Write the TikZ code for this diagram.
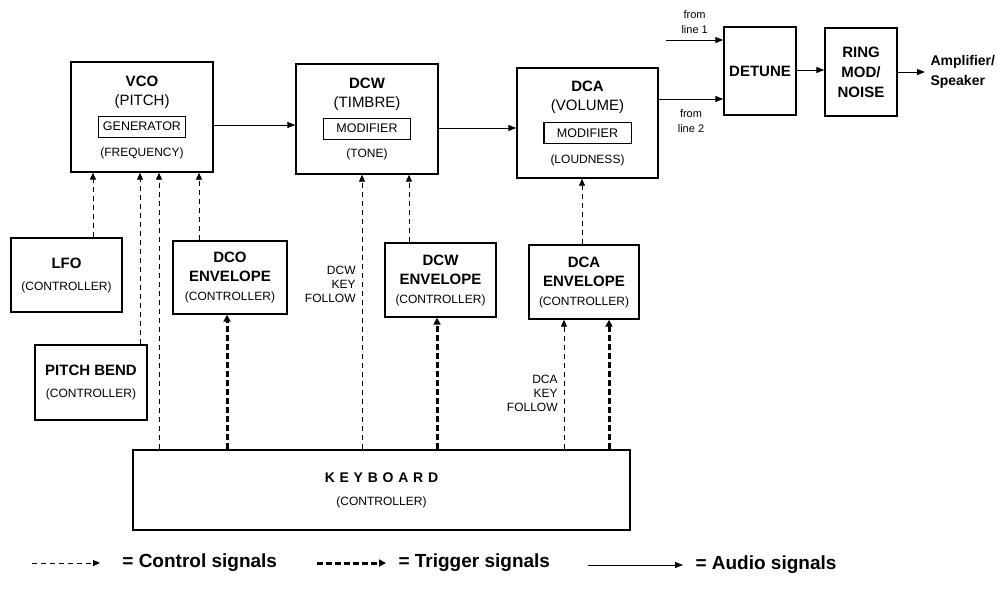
\documentclass[tikz,border=0pt]{standalone}
\usepackage{fontspec}
\setmainfont{Liberation Sans}
\usetikzlibrary{arrows.meta}
\newcommand{\modtitle}[1]{{\fontsize{15}{18}\selectfont\bfseries #1}}
\newcommand{\modsub}[1]{{\fontsize{15}{17}\selectfont #1}}
\newcommand{\modbox}[1]{{\setlength{\fboxsep}{0pt}\setlength{\fboxrule}{1.1pt}\fbox{\makebox[86pt]{\rule[-6pt]{0pt}{20pt}\fontsize{12.5}{14}\selectfont #1}}}}
\tikzset{
  module/.style={draw, line width=1.4pt, inner sep=0pt, align=center, font=\fontsize{12}{19}\selectfont},
  ctrl/.style={dash pattern=on 5pt off 4pt, line width=0.8pt, -{Triangle[length=7pt,width=6pt]}},
  trig/.style={dash pattern=on 6pt off 3pt, line width=3pt, -{Triangle[length=7pt,width=7pt]}},
  audio/.style={line width=1pt, -{Triangle[length=8pt,width=6pt]}},
  lbl/.style={font=\fontsize{12}{14}\selectfont, inner sep=0pt},
  legend/.style={font=\fontsize{19}{22}\selectfont\bfseries, inner sep=0pt, anchor=west},
}
\begin{document}
\begin{tikzpicture}[x=1pt,y=-1pt]
\useasboundingbox (0,0) rectangle (1005,590);
% modifier chain
\node[module, minimum width=142, minimum height=110] (VCO) at (142,117) {\modtitle{VCO}\\\modsub{(PITCH)}\\[7pt]\modbox{GENERATOR}\\[6pt](FREQUENCY)};
\node[module, minimum width=142, minimum height=110] (DCW) at (367,119) {\modtitle{DCW}\\\modsub{(TIMBRE)}\\[7pt]\modbox{MODIFIER}\\[6pt](TONE)};
\node[module, minimum width=141, minimum height=110] (DCA) at (587.5,123) {\modtitle{DCA}\\\modsub{(VOLUME)}\\[8pt]\modbox{MODIFIER}\\[7pt](LOUDNESS)};
\node[module, minimum width=72, minimum height=88, font=\fontsize{15}{18}\selectfont\bfseries] (DET) at (760,71) {DETUNE};
\node[module, minimum width=72, minimum height=88, font=\fontsize{15}{20}\selectfont\bfseries] (RING) at (861,72) {RING\\MOD/\\NOISE};
% controllers
\node[module, minimum width=111, minimum height=74] (LFO) at (66.5,275) {\modtitle{LFO}\\[3pt](CONTROLLER)};
\node[module, minimum width=112, minimum height=75] (PB) at (91,382.5) {\modtitle{PITCH BEND}\\[3pt](CONTROLLER)};
\node[module, minimum width=114, minimum height=73] (DCOE) at (230,277.5) {\modtitle{DCO}\\\modtitle{ENVELOPE}\\(CONTROLLER)};
\node[module, minimum width=111, minimum height=74] (DCWE) at (440.5,280) {\modtitle{DCW}\\\modtitle{ENVELOPE}\\(CONTROLLER)};
\node[module, minimum width=110, minimum height=74] (DCAE) at (584,282) {\modtitle{DCA}\\\modtitle{ENVELOPE}\\(CONTROLLER)};
\node[module, minimum width=497, minimum height=80] (KBD) at (381.5,490) {{\fontsize{14}{17}\selectfont\bfseries\addfontfeatures{LetterSpace=34}KEYBOARD}\\[4pt](CONTROLLER)};
% audio path
\coordinate (line1) at (666,40);
\coordinate (out) at (925,72);
\draw[audio] ([yshift=-8]VCO.east) -- ([yshift=-8]VCO.east -| DCW.west);
\draw[audio] ([yshift=-9]DCW.east) -- ([yshift=-9]DCW.east -| DCA.west);
\draw[audio] ([yshift=24]DCA.east) -- ([yshift=24]DCA.east -| DET.west)
  node[lbl, midway, below=10pt, align=center, font=\fontsize{11}{15}\selectfont] (l2) {from\\line 2};
\draw[audio] (line1) -- (line1 -| DET.west)
  node[lbl, midway, above=6pt, align=center, font=\fontsize{11}{15}\selectfont] (l1) {from\\line 1};
\draw[audio] (DET.east |- 0,70) -- (RING.west |- 0,70);
\draw[audio] (RING.east |- out) -- (out)
  node[right=5pt, align=left, inner sep=0pt, font=\fontsize{14}{20}\selectfont\bfseries] (spk) {Amplifier/\\Speaker};
% control signals
\draw[ctrl] ([xshift=26.5]LFO.north) -- ([xshift=26.5]LFO.north |- VCO.south);
\draw[ctrl] ([xshift=49]PB.north) -- ([xshift=49]PB.north |- VCO.south);
\draw[ctrl] ([xshift=17]VCO.south |- KBD.north) -- ([xshift=17]VCO.south);
\draw[ctrl] ([xshift=-31]DCOE.north) -- ([xshift=-31]DCOE.north |- VCO.south);
\draw[ctrl] ([xshift=-5]DCW.south |- KBD.north) -- ([xshift=-5]DCW.south)
  node[lbl, pos=0.6, left=6pt, align=right] (dcwkf) {DCW\\KEY\\FOLLOW};
\draw[ctrl] ([xshift=-31.5]DCWE.north) -- ([xshift=-31.5]DCWE.north |- DCW.south);
\draw[ctrl] ([xshift=-20]DCAE.south |- KBD.north) -- ([xshift=-20]DCAE.south)
  node[lbl, pos=0.43, left=6pt, align=right] (dcakf) {DCA\\KEY\\FOLLOW};
\draw[ctrl] ([xshift=-2]DCAE.north) -- ([xshift=-2]DCAE.north |- DCA.south);
% trigger signals
\draw[trig] ([xshift=-3]DCOE.south |- KBD.north) -- ([xshift=-3]DCOE.south);
\draw[trig] ([xshift=-3.5]DCWE.south |- KBD.north) -- ([xshift=-3.5]DCWE.south);
\draw[trig] ([xshift=25]DCAE.south |- KBD.north) -- ([xshift=25]DCAE.south);
% legend
\coordinate (lgc) at (32,563);
\coordinate (lgt) at (317,563);
\coordinate (lga) at (588,565);
\draw[ctrl] (lgc) -- +(68,0) node[legend, right=22pt] (lgctxt) {= Control signals};
\draw[trig] (lgt) -- +(69,0) node[legend, right=11pt] (lgttxt) {= Trigger signals};
\draw[audio] (lga) -- +(95,0) node[legend, right=12pt] (lgatxt) {= Audio signals};
\end{tikzpicture}
\end{document}
